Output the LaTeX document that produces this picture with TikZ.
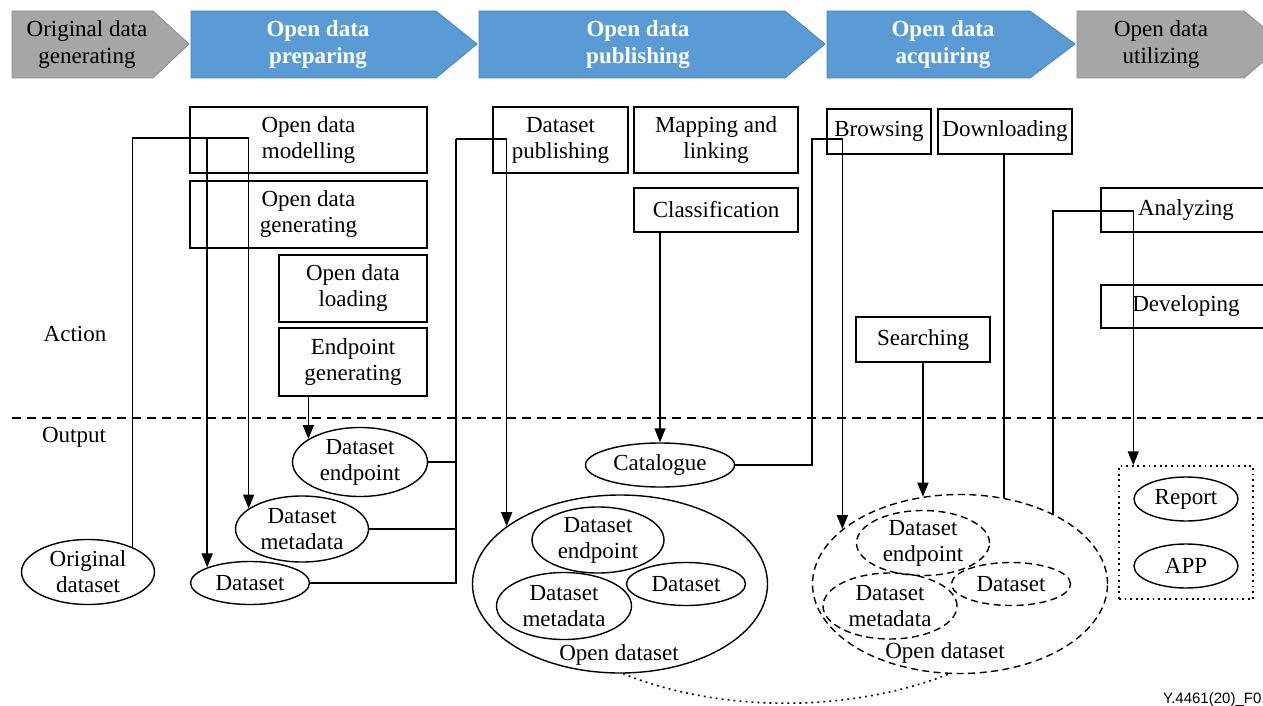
\documentclass[tikz,border=0pt]{standalone}
\usepackage{fontspec}
\setmainfont{Liberation Serif}
\newfontfamily\labelsans{Liberation Sans}
\usetikzlibrary{arrows.meta,shapes.geometric,calc}

\definecolor{stageblue}{HTML}{5B9BD5}
\definecolor{stageblueline}{HTML}{4A83B8}
\definecolor{stagegray}{HTML}{A6A6A6}
\definecolor{stagegrayline}{HTML}{8C8C8C}

\begin{document}
\begin{tikzpicture}[x=1pt,y=-1pt,
  txt/.style={font=\fontsize{23}{26}\selectfont, align=center},
  hdtxt/.style={font=\fontsize{23}{27}\selectfont, align=center, inner sep=0pt},
  actbox/.style={draw, line width=1.4pt, rectangle, inner sep=0pt, txt},
  outell/.style={draw, line width=1.4pt, ellipse, inner sep=0pt, txt},
  dashell/.style={outell, dash pattern=on 7pt off 4.5pt},
  conn/.style={line width=1.5pt},
  arr/.style={conn, -{Triangle[length=14pt,width=11pt]}},
  sepline/.style={line width=1.3pt, dash pattern=on 9pt off 6pt},
  dotline/.style={line width=1.6pt, dash pattern=on 1.8pt off 4.2pt},
  bluestage/.style={fill=stageblue, draw=stageblueline, line width=0.8pt},
  graystage/.style={fill=stagegray, draw=stagegrayline, line width=0.8pt}
]
\useasboundingbox (0,0) rectangle (1263,706);
\clip (0,0) rectangle (1263,706);

% ---------- stage chevrons ----------
\path[graystage] (12,11) -- (153,11) -- (189,44) -- (153,78) -- (12,78) -- cycle;
\path[bluestage] (191,11) -- (436,11) -- (477,44) -- (436,78) -- (191,78) -- cycle;
\path[bluestage] (479,11) -- (785,11) -- (825,44) -- (785,78) -- (479,78) -- cycle;
\path[bluestage] (827,11) -- (1030,11) -- (1075,44) -- (1030,78) -- (827,78) -- cycle;
\path[graystage] (1077,11) -- (1244,11) -- (1284,44) -- (1244,78) -- (1077,78) -- cycle;

\node[hdtxt] (s1) at (87,45) {Original data\\generating};
\node[hdtxt, text=white, font=\fontsize{23}{27}\selectfont\bfseries] (s2) at (318,45) {Open data\\preparing};
\node[hdtxt, text=white, font=\fontsize{23}{27}\selectfont\bfseries] (s3) at (638,45) {Open data\\publishing};
\node[hdtxt, text=white, font=\fontsize{23}{27}\selectfont\bfseries] (s4) at (943,45) {Open data\\acquiring};
\node[hdtxt] (s5) at (1161,45) {Open data\\utilizing};

% ---------- row labels and divider ----------
\node[txt] (action) at (75,334) {Action};
\node[txt] (output) at (74,437) {Output};
\draw[sepline] (12,418) -- (1263,418);

% ---------- actions ----------
\node[actbox, minimum width=237pt, minimum height=66pt] (model) at (308.5,140) {Open data\\modelling};
\node[actbox, minimum width=237pt, minimum height=67pt] (gen) at (308.5,214.5) {Open data\\generating};
\node[actbox, minimum width=148pt, minimum height=67pt] (load) at (353,288.5) {Open data\\loading};
\node[actbox, minimum width=148pt, minimum height=68pt] (epgen) at (353,362) {Endpoint\\generating};
\node[actbox, minimum width=135pt, minimum height=66pt] (pub) at (560.5,140) {Dataset\\publishing};
\node[actbox, minimum width=164pt, minimum height=66pt] (map) at (716,140) {Mapping and\\linking};
\node[actbox, minimum width=164pt, minimum height=44pt] (cls) at (716,210) {Classification};
\node[actbox, minimum width=104pt, minimum height=45pt] (brw) at (879,131.5) {Browsing};
\node[actbox, minimum width=134pt, minimum height=45pt] (dl) at (1005,131.5) {Downloading};
\node[actbox, minimum width=134pt, minimum height=45pt] (srch) at (923,339.5) {Searching};
\node[actbox, minimum width=170pt, minimum height=44pt] (ana) at (1186,210) {Analyzing};
\node[actbox, minimum width=170pt, minimum height=43pt] (dev) at (1186,306.5) {Developing};

% ---------- outputs ----------
\node[outell, minimum width=133pt, minimum height=65pt] (orig) at (88,572) {Original\\dataset};
\node[outell, minimum width=135pt, minimum height=69pt] (ep) at (360,462) {Dataset\\endpoint};
\node[outell, minimum width=133pt, minimum height=66pt] (meta) at (302,529) {Dataset\\metadata};
\node[outell, minimum width=119pt, minimum height=43pt] (ds) at (250,583) {Dataset};
\node[outell, minimum width=149pt, minimum height=44pt] (cat) at (660,465) {Catalogue};

% published open dataset
\node[outell, minimum width=295pt, minimum height=178pt] (od1) at (620,584) {};
\node[outell, minimum width=132pt, minimum height=66pt] (od1ep) at (598,540) {Dataset\\endpoint};
\node[outell, minimum width=119pt, minimum height=43pt] (od1ds) at (686,584) {Dataset};
\node[outell, minimum width=135pt, minimum height=67pt] (od1meta) at (564,606) {Dataset\\metadata};
\node[txt, inner sep=0pt] (od1lbl) at (619,655) {Open dataset};

% acquired open dataset
\node[dashell, minimum width=295pt, minimum height=179pt] (od2) at (960,584) {};
\node[dashell, minimum width=133pt, minimum height=60pt] (od2ep) at (923,543) {Dataset\\endpoint};
\node[dashell, minimum width=119pt, minimum height=43pt] (od2ds) at (1011,584) {Dataset};
\node[dashell, minimum width=134pt, minimum height=66pt] (od2meta) at (890,606) {Dataset\\metadata};
\node[txt, inner sep=0pt] (od2lbl) at (945,653) {Open dataset};

% utilization results
\node[draw, line width=1.5pt, dash pattern=on 1.8pt off 3.8pt, minimum width=134pt, minimum height=133pt, inner sep=0pt] (outbox) at (1186,532.5) {};
\node[outell, minimum width=104pt, minimum height=44pt] (rep) at (1186,499) {Report};
\node[outell, minimum width=104pt, minimum height=44pt] (app) at (1186,566) {APP};

% ---------- connectors ----------
\coordinate (railA) at (190,138);
\coordinate (railB) at (456,139);
\coordinate (railC) at (812,139);
\coordinate (railD) at (1100,211);

% original dataset feeds modelling/generating
\draw[arr] (orig.29) |- (railA) -| (meta.159);
\draw[arr] (railA -| ds.160) -- (ds.160);
\draw[arr] (epgen.south -| ep.156) -- (ep.156);

% prepared outputs go to publishing
\draw[conn] (ds.east) -| (railB);
\draw[conn] (ep.east) -- (ep.east -| railB);
\draw[conn] (meta.east) -- (meta.east -| railB);
\draw[arr] (railB) -| (od1.153);

% classification and catalogue
\draw[arr] (cls.south -| cat.north) -- (cat.north);
\draw[arr] (cat.east) -| (railC) -| (od2.155.5);

% acquiring
\draw[arr] (srch.south -| od2.113) -- (od2.113);
\draw[conn] (dl.south -| od2.63) -- (od2.63);

% utilizing
\draw[arr] (od2.37) |- (railD) -| (rep.west |- outbox.north);

% published dataset is what gets acquired
\draw[dotline] (od1.272) .. controls (720,713) and (850,713) .. (od2.263);

\node[anchor=base west, inner sep=0pt, font=\labelsans\fontsize{15}{15}\selectfont] (figid) at (1163,703) {Y.4461(20)\_F0};
\end{tikzpicture}
\end{document}
